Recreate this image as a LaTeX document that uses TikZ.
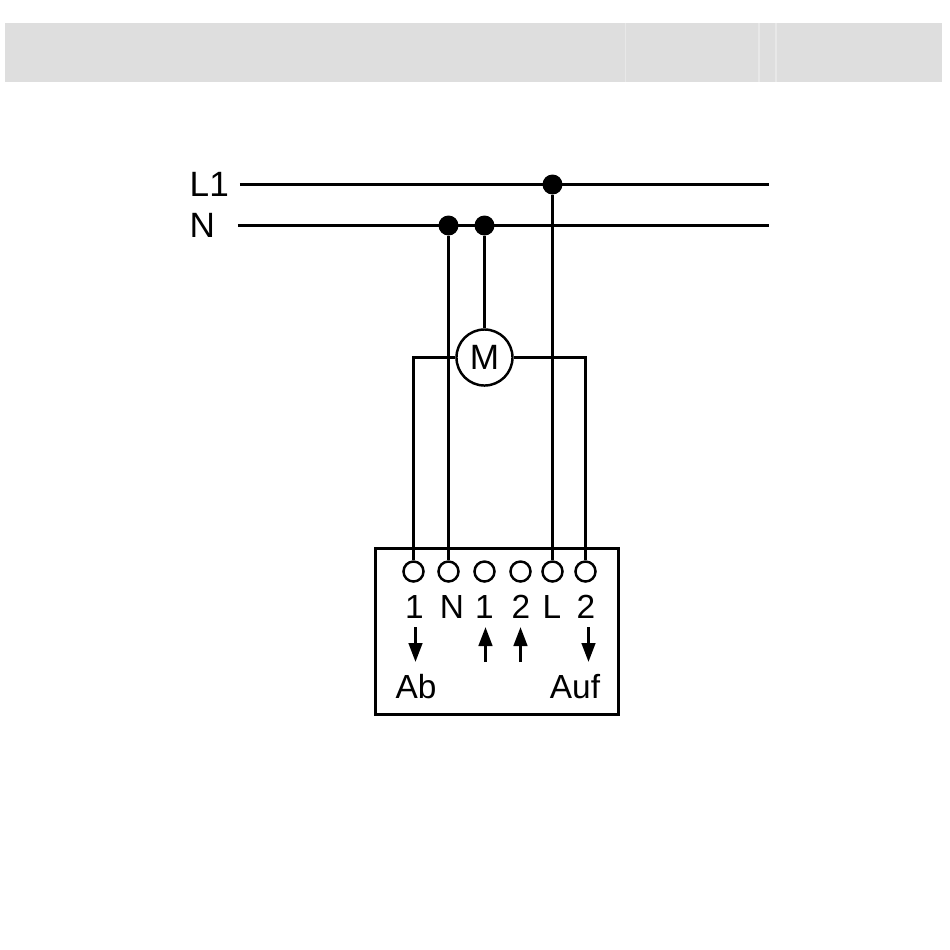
\documentclass[tikz,border=0pt]{standalone}
\usepackage{fontspec}
\setmainfont{Liberation Sans}
\usetikzlibrary{arrows.meta}
\tikzset{
  wire/.style={line width=0.03cm},
  joint/.style={circle,fill=black,inner sep=0pt,minimum size=0.2cm},
  terminal/.style={circle,draw,line width=0.7pt,fill=white,inner sep=0pt,minimum size=0.2cm},
  label/.style={inner sep=0pt,font=\fontsize{9.5}{11}\selectfont},
  flow/.style={line width=0.03cm,-{Triangle[length=0.19cm,width=0.135cm]}}
}
\begin{document}
\begin{tikzpicture}[x=0.01cm,y=-0.01cm]
\useasboundingbox (0,0) rectangle (950,950);
\fill[black!13] (5.5,23) rectangle (942,82);
\draw[black!9,line width=0.3pt] (625.5,23)--(625.5,82);
\draw[black!9,line width=0.3pt] (759,23)--(759,82);
\draw[black!9,line width=0.3pt] (776,23)--(776,82);
% supply lines
\node[label,anchor=west] (lL) at (189,184) {\fontsize{10}{12}\selectfont L1};
\node[label,anchor=west] (lN) at (189,225.5) {\fontsize{10}{12}\selectfont N};
\coordinate (aL) at (240,184.5);
\coordinate (bL) at (769,184.5);
\coordinate (aN) at (238,225.5);
\coordinate (bN) at (769,225.5);
\draw[wire] (aL)--(bL);
\draw[wire] (aN)--(bN);
\node[joint] (jL) at (552.5,184.5) {};
\node[joint] (jN) at (448.5,225.5) {};
\node[joint] (jM) at (484.5,225.5) {};
% motor
\node[circle,draw,line width=0.7pt,fill=white,inner sep=0pt,minimum size=0.56cm,font=\fontsize{10}{12}\selectfont] (motor) at (484.5,357.5) {M};
% box
\node[draw,wire,inner sep=0pt,minimum width=2.43cm,minimum height=1.66cm] (box) at (497,631.5) {};
\node[terminal] (t1) at (413.5,571.5) {};
\node[terminal] (tN) at (448.5,571.5) {};
\node[terminal] (tA) at (484.5,571.5) {};
\node[terminal] (tB) at (520.5,571.5) {};
\node[terminal] (tL) at (552.5,571.5) {};
\node[terminal] (t2) at (585.5,571.5) {};
\node[label] (n1) at (414.5,606.5) {1};
\node[label] (nN) at (452,606.5) {N};
\node[label] (nA) at (484.5,606.5) {1};
\node[label] (nB) at (521,606.5) {2};
\node[label] (nL) at (552,606.5) {L};
\node[label] (n2) at (586,606.5) {2};
\node[label] (ab) at (416,687) {Ab};
\node[label] (auf) at (575,687) {Auf};
% connections
\coordinate (cl) at (413.5,357.5);
\coordinate (cr) at (585.5,357.5);
\draw[wire] (jN)--(tN);
\draw[wire] (jL)--(tL);
\draw[wire] (jM)--(motor);
\draw[wire] (motor)--(cl)--(t1);
\draw[wire] (motor)--(cr)--(t2);
% arrows
\coordinate (d1a) at (415.5,627);
\coordinate (d1b) at (415.5,662);
\coordinate (uAa) at (485.5,662);
\coordinate (uAb) at (485.5,627);
\coordinate (uBa) at (520.5,662);
\coordinate (uBb) at (520.5,627);
\coordinate (d2a) at (588.5,627);
\coordinate (d2b) at (588.5,662);
\draw[flow] (d1a)--(d1b);
\draw[flow] (uAa)--(uAb);
\draw[flow] (uBa)--(uBb);
\draw[flow] (d2a)--(d2b);
\end{tikzpicture}
\end{document}
